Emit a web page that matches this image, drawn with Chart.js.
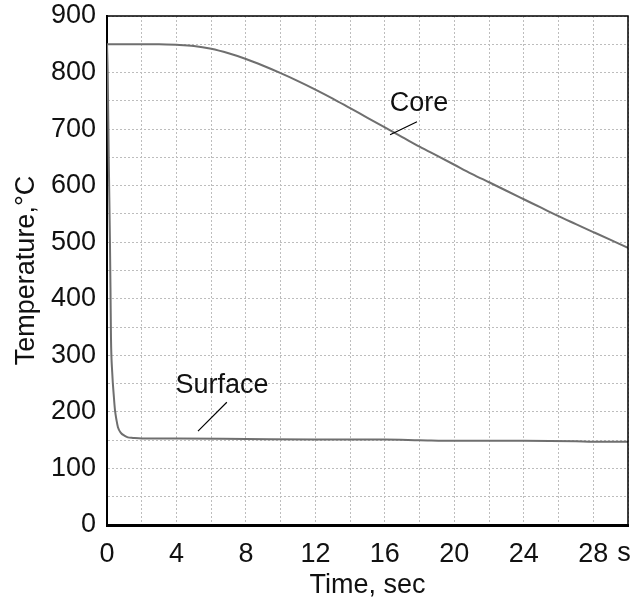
<!DOCTYPE html>
<html><head><meta charset="utf-8">
<script src="https://cdn.jsdelivr.net/npm/chart.js@4"></script>
<style>html,body{margin:0;padding:0;background:#fff}</style>
</head><body>
<canvas id="c" width="632" height="606"></canvas>
<script>
const coreTime = [0,1,2,3,4,5,6,7,8,9,10,11,12,13,14,15,16,17,18,19,20,21,22,23,24,25,26,27,28,29,30];
const coreTemp = [850,850,850,850,849,847,842,834,824,812,799,785,770,754,737,720,703,686,669,653,637,621,606,591,576,561,546,532,518,504,490];
const surfaceTime = [0,0.04,0.1,0.17,0.2,0.23,0.3,0.4,0.46,0.55,0.63,0.8,1.0,1.2,1.5,2,4,8,12,16,18,20,24,27,28,30];
const surfaceTemp = [850,800,650,500,420,330,270,225,203,185,173,163,158,155,154,153,153,152,151,151,150,149,149,148,147,147];
const xTickLabels = {0:'0',4:'4',8:'8',12:'12',16:'16',20:'20',24:'24',28:'28'};
const yTickLabels = {0:'0',100:'100',200:'200',300:'300',400:'400',500:'500',600:'600',700:'700',800:'800',900:'900'};
const xTitle = 'Time, sec';
const yTitle = 'Temperature,°C';
const unitLabel = 's';
const seriesNames = ['Core','Surface'];

const FONT = '"Liberation Sans", Arial, sans-serif';
const toPts = (xs, ys) => xs.map((x, i) => ({x, y: ys[i]}));

const annot = {
  id: 'annot',
  afterDraw(chart) {
    const {ctx, chartArea: a, scales: {x, y}} = chart;
    ctx.save();
    ctx.strokeStyle = '#000';
    ctx.lineWidth = 1.5;
    ctx.beginPath();
    ctx.moveTo(a.left, a.top); ctx.lineTo(a.right, a.top); ctx.lineTo(a.right, a.bottom);
    ctx.stroke();
    ctx.fillStyle = '#111';
    ctx.font = '27px ' + FONT;
    ctx.textAlign = 'center';
    ctx.textBaseline = 'middle';
    ctx.fillText(seriesNames[0], x.getPixelForValue(17.96), y.getPixelForValue(746));
    ctx.fillText(seriesNames[1], x.getPixelForValue(6.62), y.getPixelForValue(246));
    ctx.lineWidth = 1.2;
    ctx.beginPath();
    ctx.moveTo(x.getPixelForValue(16.3), y.getPixelForValue(690));
    ctx.lineTo(x.getPixelForValue(17.85), y.getPixelForValue(713));
    ctx.moveTo(x.getPixelForValue(5.24), y.getPixelForValue(166));
    ctx.lineTo(x.getPixelForValue(6.9), y.getPixelForValue(217));
    ctx.stroke();
    ctx.textAlign = 'left';
    ctx.fillText(unitLabel, x.getPixelForValue(28) + 24, 554);
    ctx.restore();
  }
};

new Chart(document.getElementById('c'), {
  type: 'line',
  data: {
    datasets: [
      {label: seriesNames[0], data: toPts(coreTime, coreTemp), borderColor: '#6f6f6f', borderWidth: 2, pointRadius: 0, cubicInterpolationMode: 'monotone', fill: false},
      {label: seriesNames[1], data: toPts(surfaceTime, surfaceTemp), borderColor: '#6f6f6f', borderWidth: 2, pointRadius: 0, cubicInterpolationMode: 'monotone', fill: false}
    ]
  },
  options: {
    responsive: false,
    animation: false,
    layout: {autoPadding: false, padding: {top: 16, right: 4, left: 0, bottom: 0}},
    plugins: {legend: {display: false}, tooltip: {enabled: false}},
    scales: {
      x: {
        type: 'linear', min: 0, max: 30,
        afterFit(s) { s.height = 81; s.paddingLeft = 0; s.paddingRight = 0; },
        ticks: {stepSize: 2, autoSkip: false, maxRotation: 0, padding: 13, color: '#111',
          font: {family: FONT, size: 27},
          callback: v => (xTickLabels[v] !== undefined ? xTickLabels[v] : '')},
        grid: {color: '#bdbdbd', lineWidth: 1, drawTicks: false},
        border: {display: true, color: '#000', width: 3, dash: [2,2]},
        title: {display: true, text: xTitle, color: '#111', font: {family: FONT, size: 27}, padding: {top: 10}}
      },
      y: {
        type: 'linear', min: 0, max: 900,
        afterFit(s) { s.width = 107; s.paddingTop = 0; s.paddingBottom = 0; },
        ticks: {stepSize: 50, autoSkip: false, padding: 11, color: '#111',
          font: {family: FONT, size: 27},
          callback: v => (yTickLabels[v] !== undefined ? yTickLabels[v] : '')},
        grid: {color: '#bdbdbd', lineWidth: 1, drawTicks: false},
        border: {display: true, color: '#000', width: 2, dash: [2,2]},
        title: {display: true, text: yTitle, color: '#111', font: {family: FONT, size: 27}, padding: {top: 10, bottom: 0}}
      }
    }
  },
  plugins: [annot]
});
</script>
</body></html>
